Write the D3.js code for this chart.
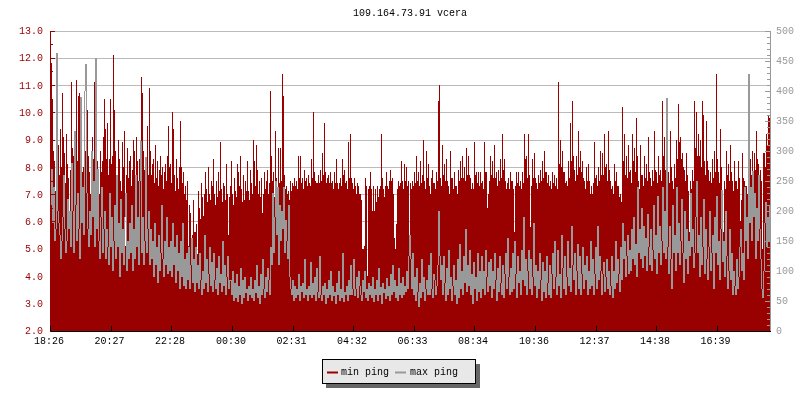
<!DOCTYPE html>
<html><head><meta charset="utf-8">
<script src="https://cdn.jsdelivr.net/npm/d3@7/dist/d3.min.js"></script>
<style>
html,body{margin:0;padding:0;background:#fff}
svg{display:block;will-change:transform}
text{font-family:"Liberation Mono",monospace;font-size:10px}
</style></head><body>
<svg id="c" width="800" height="400"></svg>
<script>
const chartTitle = "109.164.73.91 vcera";
const seriesNames = ["min ping", "max ping"];
const sampleMinutes = 2;
const tickMinutes = [0,121,242,364,485,606,727,848,970,1091,1212,1333];
const tickLabels = ["18:26","20:27","22:28","00:30","02:31","04:32","06:33","08:34","10:36","12:37","14:38","16:39"];
const minPing = [
11.9,11.8,10.5,8.6,8.2,7.1,7.0,8.3,8.8,7.7,9.4,8.0,10.7,9.1,8.5,7.4,9.2,8.1,7.6,6.3,
7.9,11.1,8.7,8.4,7.6,9.0,11.2,8.2,10.6,10.7,8.9,9.1,7.8,8.0,7.3,8.6,9.3,10.1,8.4,7.8,
7.0,8.4,9.1,8.3,11.1,8.9,7.9,8.2,7.4,7.0,8.6,7.8,8.2,9.1,10.5,9.4,8.3,9.6,7.7,8.3,
10.5,8.1,8.4,12.1,10.1,8.6,7.4,6.5,9.0,8.3,7.5,7.1,8.9,8.0,9.3,5.1,7.7,8.7,7.6,8.2,
8.4,7.3,7.9,9.0,8.6,7.6,9.1,8.2,7.5,8.3,7.8,11.3,10.7,8.6,7.9,7.4,8.3,9.5,7.7,10.9,
8.6,7.7,8.1,8.3,7.4,8.8,7.6,8.2,7.3,7.9,8.4,7.7,8.0,7.2,7.8,8.1,7.5,8.4,9.5,8.0,
8.1,7.4,10.0,9.4,7.7,7.1,8.3,7.6,7.2,8.0,9.7,8.0,7.4,7.8,7.0,7.3,6.8,7.5,5.1,6.6,
6.3,5.2,5.5,6.8,5.6,5.6,5.9,4.8,7.1,6.5,6.1,7.4,6.9,6.2,7.0,7.8,7.2,6.7,8.0,7.0,
6.8,7.5,7.3,8.3,7.0,6.6,7.5,6.9,7.8,7.1,8.9,7.2,6.7,7.4,7.3,6.8,8.1,7.0,5.5,6.9,
7.3,8.2,7.0,6.6,7.6,7.1,6.9,8.1,7.8,7.3,8.4,7.2,6.7,7.7,6.8,7.5,7.1,8.2,7.1,6.8,
7.9,7.4,7.0,9.0,8.2,7.3,8.8,7.9,7.0,7.5,6.9,7.6,6.3,7.0,7.8,7.2,7.5,7.9,7.0,7.4,
10.8,8.4,7.5,7.8,6.9,9.3,7.6,7.2,8.7,7.4,8.7,7.5,11.4,10.6,7.7,7.2,7.3,7.0,7.1,6.8,
7.5,7.1,7.4,7.3,7.6,7.3,7.5,7.2,8.4,7.6,8.4,7.4,7.6,7.2,7.9,7.5,7.6,7.3,7.7,7.4,
7.3,8.3,7.6,10.0,7.8,7.5,7.4,7.4,7.7,7.4,7.9,7.5,8.5,7.7,9.6,7.8,7.4,7.6,7.7,7.4,
7.8,7.4,7.5,7.2,7.8,7.4,8.3,7.4,7.2,7.4,7.6,7.3,8.3,7.7,7.9,7.4,7.5,7.2,8.9,7.6,
9.2,7.6,7.4,7.2,7.6,7.3,7.0,7.4,7.3,7.0,7.0,6.8,5.0,5.0,5.1,7.6,7.3,4.0,7.2,7.3,
7.8,7.2,6.4,7.3,6.4,7.2,6.7,7.3,6.9,7.2,7.3,9.2,7.6,7.2,6.9,7.3,7.8,7.3,7.2,7.5,
7.9,7.5,7.6,7.0,5.4,5.0,5.9,7.2,7.5,7.3,7.4,8.2,7.5,7.2,8.1,7.5,8.0,7.3,7.5,5.3,
7.4,7.2,7.5,7.3,7.8,7.4,8.4,7.5,7.8,7.3,8.2,7.4,7.7,9.0,7.5,7.2,8.6,7.6,8.1,7.3,
7.0,7.6,7.9,7.4,7.4,7.2,7.8,7.5,10.4,11.0,7.6,7.3,8.8,7.7,8.1,7.5,8.3,7.5,7.3,7.0,
8.6,7.6,7.6,7.2,7.8,7.3,7.3,7.0,7.9,7.5,8.2,7.6,8.4,7.6,8.0,7.5,8.7,7.7,8.4,7.7,
7.6,7.2,7.4,7.2,8.9,7.7,7.8,7.4,7.8,7.3,7.8,7.4,7.5,7.2,8.9,7.8,7.8,6.5,7.0,7.5,
8.4,7.7,8.2,7.6,8.8,7.6,7.8,7.3,7.9,7.5,8.3,7.6,9.2,7.9,8.3,7.5,7.2,7.4,7.6,7.2,
7.8,7.5,7.5,7.2,5.6,7.3,7.8,7.4,7.8,7.3,7.5,7.2,7.8,7.4,9.2,8.3,8.4,7.6,9.2,7.7,
5.8,7.3,8.3,7.6,8.5,7.6,7.4,7.2,7.7,7.4,7.9,7.5,8.2,7.6,8.6,7.8,7.8,7.4,7.7,7.3,
7.5,7.2,7.8,7.4,7.7,7.3,7.6,7.2,11.1,8.1,9.0,8.0,8.6,7.8,7.8,7.4,7.5,7.3,8.2,7.6,
9.6,8.2,10.4,8.4,7.9,7.5,8.4,7.7,9.3,8.0,8.6,7.8,8.2,7.6,7.5,7.2,8.0,7.5,8.1,7.5,
7.0,7.3,7.0,7.4,8.9,7.6,7.7,7.3,8.0,7.5,8.6,7.7,8.5,7.7,9.2,8.0,8.1,7.5,9.3,7.9,
7.5,7.2,7.3,7.0,8.1,7.5,7.8,7.3,7.3,6.9,7.0,6.7,10.2,8.2,9.2,7.7,8.4,7.6,8.8,7.8,
7.9,7.4,9.2,8.2,8.7,7.8,9.8,8.4,7.5,7.2,8.8,7.7,7.7,7.3,8.4,7.6,8.1,7.5,9.1,7.8,
7.6,7.3,7.9,7.5,9.3,7.9,7.8,7.4,8.4,7.7,7.9,7.5,10.4,8.4,9.1,7.9,8.5,7.7,7.8,7.4,
9.3,8.0,7.5,7.2,8.1,7.6,9.0,8.3,10.3,8.9,9.1,8.3,8.5,8.0,7.9,7.5,8.5,7.7,7.1,5.6,
7.5,7.2,7.9,7.5,10.4,8.7,10.0,8.4,9.2,8.4,9.0,8.0,10.4,9.9,8.2,7.7,9.7,8.2,7.9,7.5,
7.8,7.4,8.3,7.6,8.6,7.8,11.4,8.3,7.8,7.4,9.4,8.0,5.2,5.6,7.5,7.2,8.6,7.7,8.1,7.5,
8.8,7.8,7.5,7.1,8.2,7.5,7.5,7.2,8.2,7.6,6.0,6.8,8.5,7.6,7.5,7.3,7.3,7.0,8.0,7.5,
8.3,7.7,8.6,7.8,8.5,7.9,9.3,8.3,8.1,7.7,7.9,7.5,5.0,8.5,8.5,8.0,9.2,8.8,9.9,9.8];
const maxPing = [
210,270,180,240,150,170,462,200,180,160,120,150,190,260,170,130,150,220,170,200,
140,280,200,130,333,210,150,230,170,120,390,180,240,160,400,445,230,170,140,200,
160,300,190,250,140,455,170,270,150,120,190,240,130,170,200,120,170,140,110,230,
140,190,100,150,210,120,260,140,180,90,220,130,170,110,190,230,100,150,120,180,
130,210,100,170,120,260,140,190,110,250,316,130,190,110,150,290,130,170,200,110,
170,120,150,90,180,110,140,80,160,100,130,210,120,90,150,110,190,95,140,100,
150,90,180,110,140,80,160,100,130,70,150,90,180,75,120,70,130,85,140,70,
110,155,80,120,65,140,80,110,70,130,85,60,100,70,160,80,120,65,95,140,
75,115,65,130,85,70,105,60,125,80,95,65,150,75,110,60,90,125,70,85,
85,60,100,50,80,55,95,48,75,60,105,45,85,55,90,62,70,50,75,60,
90,55,70,50,85,62,110,55,75,45,95,60,120,70,55,90,65,105,85,60,
140,110,230,130,190,250,160,240,110,210,150,200,170,240,130,185,150,120,210,90,
70,60,85,50,75,55,70,60,95,50,75,65,80,55,120,60,70,50,75,60,
115,55,80,60,90,50,105,65,55,125,60,50,75,60,80,45,70,55,85,60,
100,50,75,58,65,45,80,60,100,50,70,55,130,48,65,60,75,50,85,60,
110,60,70,120,58,70,90,55,100,75,60,50,85,65,100,55,70,50,80,60,
75,55,90,48,70,60,85,50,105,60,72,45,80,62,70,52,88,58,75,50,
95,60,110,65,85,55,75,50,105,60,80,55,90,60,75,65,100,70,125,160,
120,70,130,60,90,50,105,65,40,80,55,120,65,90,50,70,85,60,110,60,
130,70,55,95,85,60,75,110,200,125,85,110,60,125,80,50,105,60,135,70,
90,50,75,110,60,85,45,120,55,145,70,100,60,125,80,170,65,110,75,135,
60,95,45,115,70,90,50,130,65,100,55,125,70,100,60,135,90,65,115,75,
120,55,100,70,130,85,50,105,65,125,80,60,110,55,95,130,70,155,90,60,
105,65,130,70,150,95,55,125,80,100,60,135,85,190,75,120,60,100,135,70,
120,60,90,180,75,110,55,100,70,130,85,50,115,65,100,55,125,80,60,110,
55,95,130,70,150,90,60,135,75,95,55,160,105,70,125,60,90,150,75,105,
65,175,110,85,130,60,100,145,70,125,60,95,140,70,110,85,125,60,100,70,
150,75,120,60,95,140,70,175,85,125,100,60,95,115,65,90,120,70,100,60,
75,125,55,100,70,150,80,120,95,65,140,85,180,120,150,90,125,160,95,135,
100,170,120,190,110,145,90,240,130,170,120,205,105,175,125,155,100,195,140,110,
170,100,135,210,120,160,95,225,130,175,110,150,240,130,200,120,388,140,95,175,
120,70,210,130,160,100,240,130,180,110,150,220,130,80,200,120,170,95,150,125,
230,140,170,105,130,190,250,130,160,90,190,110,140,220,95,170,120,85,140,200,
100,130,160,70,190,130,225,110,150,85,170,235,115,150,90,200,125,70,100,170,
85,130,60,100,75,60,120,70,90,140,170,100,130,85,240,150,190,120,427,180,
240,150,266,190,230,120,205,150,260,170,120,70,55,100,180,215,140,190,150,210];

const width=800,height=400,left=50,right=770,top0=30.5,bottom=330.5;
const red="#990000",grey="#999999",grid="#bbbbbb";
const svg=d3.select("#c");
const x=d3.scaleLinear().domain([0,1440]).range([left,right]);
const yL=d3.scaleLinear().domain([2,13]).range([bottom,top0]);
const yR=d3.scaleLinear().domain([0,500]).range([bottom,top0]);

svg.append("rect").attr("width",width).attr("height",height).attr("fill","#fff");
svg.append("text").attr("x",410).attr("y",16).attr("text-anchor","middle").attr("fill","#000").text(chartTitle);

const style=(g,col)=>{g.selectAll("path,line").attr("stroke",col).attr("shape-rendering","crispEdges");g.selectAll("text").attr("fill",col).style("font-family",'"Liberation Mono",monospace').style("font-size","10px");};

svg.append("g").attr("transform",`translate(${left},0)`)
 .call(d3.axisLeft(yL).tickValues(d3.range(3,14)).tickSize(-(right-left)).tickFormat(""))
 .call(g=>{g.select(".domain").remove();style(g,grid);});

const barW=x(sampleMinutes)-x(0);
svg.append("g").attr("fill",red).attr("shape-rendering","crispEdges")
 .selectAll("rect").data(minPing).join("rect")
 .attr("x",(d,i)=>x(i*sampleMinutes)).attr("width",barW)
 .attr("y",d=>yL(d)).attr("height",d=>yL(2)-yL(d));

// max ping: a 1px trace, each column joining the previous reading to this one
svg.append("g").attr("fill",grey).attr("shape-rendering","crispEdges")
 .selectAll("rect").data(maxPing).join("rect")
 .attr("x",(d,i)=>x(i*sampleMinutes)).attr("width",barW)
 .attr("y",(d,i)=>yR(Math.max(d,i?maxPing[i-1]:d)))
 .attr("height",(d,i)=>Math.max(1,Math.abs(yR(d)-yR(i?maxPing[i-1]:d))));

svg.append("g").attr("transform",`translate(${left},0)`)
 .call(d3.axisLeft(yL).tickValues(d3.range(2.5,13,1)).tickSize(-3).tickFormat("").tickSizeOuter(0)).call(g=>style(g,red));
svg.append("g").attr("transform",`translate(${left},0)`)
 .call(d3.axisLeft(yL).tickValues(d3.range(2,14)).tickSize(-5).tickSizeOuter(0).tickPadding(7).tickFormat(d3.format(".1f"))).call(g=>style(g,red));
svg.append("g").attr("transform",`translate(${right},0)`)
 .call(d3.axisRight(yR).tickValues(d3.range(0,501,10)).tickSize(-3).tickSizeOuter(0).tickFormat("")).call(g=>style(g,grey));
svg.append("g").attr("transform",`translate(${right},0)`)
 .call(d3.axisRight(yR).tickValues(d3.range(0,501,50)).tickSize(-5).tickSizeOuter(0).tickPadding(6)).call(g=>style(g,grey));
svg.append("g").attr("transform",`translate(0,${bottom})`)
 .call(d3.axisBottom(x).tickValues(tickMinutes).tickSize(-5).tickSizeOuter(0).tickPadding(6).tickFormat((d,i)=>tickLabels[i]))
 .call(g=>{style(g,"#000");g.selectAll("text").attr("dx",-1.5);});

const lg=svg.append("g").attr("transform","translate(322.5,359.5)");
lg.append("rect").attr("x",3).attr("y",4).attr("width",154).attr("height",24).attr("fill","#666").attr("shape-rendering","crispEdges");
lg.append("rect").attr("width",153).attr("height",24).attr("fill","#e8e8e8").attr("stroke","#000").attr("shape-rendering","crispEdges");
[[red,4.5,18.5],[grey,72.5,87.5]].forEach(([c,sx,tx],i)=>{
 lg.append("rect").attr("x",sx).attr("y",12).attr("width",11).attr("height",2).attr("fill",c);
 lg.append("text").attr("x",tx).attr("y",15.5).attr("fill","#000").text(seriesNames[i]);
});
</script></body></html>
